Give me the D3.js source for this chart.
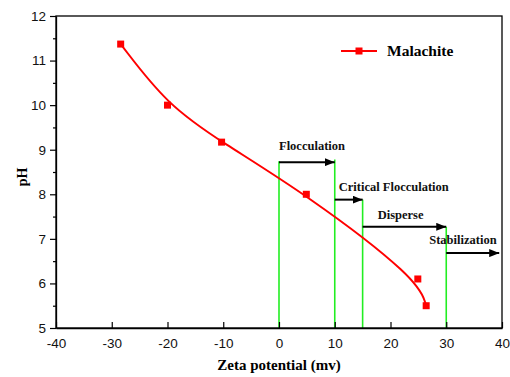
<!DOCTYPE html>
<html>
<head>
<meta charset="utf-8">
<script src="https://cdn.jsdelivr.net/npm/d3@7"></script>
<style>
  body { margin: 0; background: #fff; }
  svg { display: block; }
</style>
</head>
<body>
<svg id="svgRoot" width="510" height="377"></svg>
<script>
// data
const zeta = [-28.4, -20, -10.3, 4.9, 24.9, 26.4]
const ph = [11.37, 10.0, 9.17, 8.0, 6.1, 5.5]

// regions (arrows) above the curve
const regionNames = ["Flocculation", "Critical Flocculation", "Disperse", "Stabilization"]
const regionFrom = [0, 10, 15, 30]
const regionTo = [10, 15, 30, 39.5]
const regionPh = [8.72, 7.88, 7.27, 6.68]

// green boundary lines: x and top pH
const boundX = [0, 10, 15, 30]
const boundTop = [8.74, 8.78, 7.88, 7.27]

const xTicks = [-40, -30, -20, -10, 0, 10, 20, 30, 40]
const yTicks = [5, 6, 7, 8, 9, 10, 11, 12]
const yMinor = [5.5, 6.5, 7.5, 8.5, 9.5, 10.5, 11.5]

const margin = { top: 16, left: 56, bottom: 49, right: 8 }
const svg = d3.select("#svgRoot")
const width = +svg.attr("width")
const height = +svg.attr("height")

const x = d3.scaleLinear().domain([-40, 40]).range([margin.left, width - margin.right])
const y = d3.scaleLinear().domain([5, 12]).range([height - margin.bottom, margin.top])

svg.append("defs").append("marker")
  .attr("id", "arrow")
  .attr("viewBox", "0 0 10 8")
  .attr("refX", 10).attr("refY", 4)
  .attr("markerWidth", 10).attr("markerHeight", 8)
  .attr("markerUnits", "userSpaceOnUse")
  .attr("orient", "auto")
  .append("path").attr("d", "M0,0L10,4L0,8Z").attr("fill", "#000")

// green boundaries
svg.append("g").selectAll("line").data(boundX).enter().append("line")
  .attr("x1", (d) => x(d)).attr("x2", (d) => x(d))
  .attr("y1", (d, i) => y(boundTop[i])).attr("y2", y(5))
  .attr("stroke", "#22ee22").attr("stroke-width", 1.6)

// arrows
svg.append("g").selectAll("line").data(regionFrom).enter().append("line")
  .attr("x1", (d) => x(d))
  .attr("x2", (d, i) => x(regionTo[i]))
  .attr("y1", (d, i) => y(regionPh[i])).attr("y2", (d, i) => y(regionPh[i]))
  .attr("stroke", "#000").attr("stroke-width", 2)
  .attr("marker-end", "url(#arrow)")

// region labels (offset from arrow start)
const labelOffset = [[0, -12], [4, -9], [15, -8], [-17, -9]]
svg.append("g").selectAll("text").data(regionNames).enter().append("text")
  .attr("x", (d, i) => x(regionFrom[i]) + labelOffset[i][0])
  .attr("y", (d, i) => y(regionPh[i]) + labelOffset[i][1])
  .attr("font-family", "Liberation Serif").attr("font-weight", "bold")
  .attr("font-size", 12.5).attr("fill", "#111")
  .text((d) => d)

// curve
const pts = zeta.map((d, i) => [d, ph[i]])
svg.append("path").datum(pts)
  .attr("fill", "none").attr("stroke", "#ff0000").attr("stroke-width", 2)
  .attr("d", d3.line().x((d) => x(d[0])).y((d) => y(d[1])).curve(d3.curveBasis))

svg.append("g").selectAll("rect").data(pts).enter().append("rect")
  .attr("x", (d) => x(d[0]) - 3.5).attr("y", (d) => y(d[1]) - 3.5)
  .attr("width", 7).attr("height", 7).attr("fill", "#ff0000")

// frame
svg.append("rect")
  .attr("x", margin.left).attr("y", margin.top)
  .attr("width", width - margin.left - margin.right)
  .attr("height", height - margin.top - margin.bottom)
  .attr("fill", "none").attr("stroke", "#000").attr("stroke-width", 1.3)

// axes
const fmt = (d) => String(d)
const gx = svg.append("g").attr("transform", "translate(0," + y(5) + ")")
  .call(d3.axisBottom(x).tickValues(xTicks).tickFormat(fmt).tickSizeInner(-6).tickSizeOuter(0).tickPadding(10))
const gy = svg.append("g").attr("transform", "translate(" + margin.left + ",0)")
  .call(d3.axisLeft(y).tickValues(yTicks).tickFormat(fmt).tickSizeInner(6).tickSizeOuter(0).tickPadding(4))
svg.append("g").attr("transform", "translate(" + margin.left + ",0)")
  .call(d3.axisLeft(y).tickValues(yMinor).tickSize(3).tickFormat(""))
  .select(".domain").remove()

svg.selectAll(".domain").attr("stroke-width", 1.3)
svg.selectAll(".tick line").attr("stroke-width", 1.2)
;[gx, gy].forEach((g) => g.selectAll("text")
  .attr("font-family", "Liberation Sans").attr("font-size", 13.5).attr("fill", "#111"))

// axis titles
svg.append("text")
  .attr("x", (x(-40) + x(40)) / 2).attr("y", 370)
  .attr("text-anchor", "middle")
  .attr("font-family", "Liberation Serif").attr("font-weight", "bold").attr("font-size", 15)
  .text("Zeta potential (mv)")
svg.append("text")
  .attr("transform", "translate(27," + 177 + ") rotate(-90)")
  .attr("text-anchor", "middle")
  .attr("font-family", "Liberation Serif").attr("font-weight", "bold").attr("font-size", 14)
  .text("pH")

// legend
const lg = svg.append("g").attr("transform", "translate(341,51)")
lg.append("line").attr("x1", 0).attr("x2", 36).attr("y1", 0).attr("y2", 0)
  .attr("stroke", "#ff0000").attr("stroke-width", 2)
lg.append("rect").attr("x", 14.5).attr("y", -3.5).attr("width", 7).attr("height", 7).attr("fill", "#ff0000")
lg.append("text").attr("x", 46).attr("y", 5)
  .attr("font-family", "Liberation Serif").attr("font-weight", "bold").attr("font-size", 15.5)
  .text("Malachite")
</script>
</body>
</html>
